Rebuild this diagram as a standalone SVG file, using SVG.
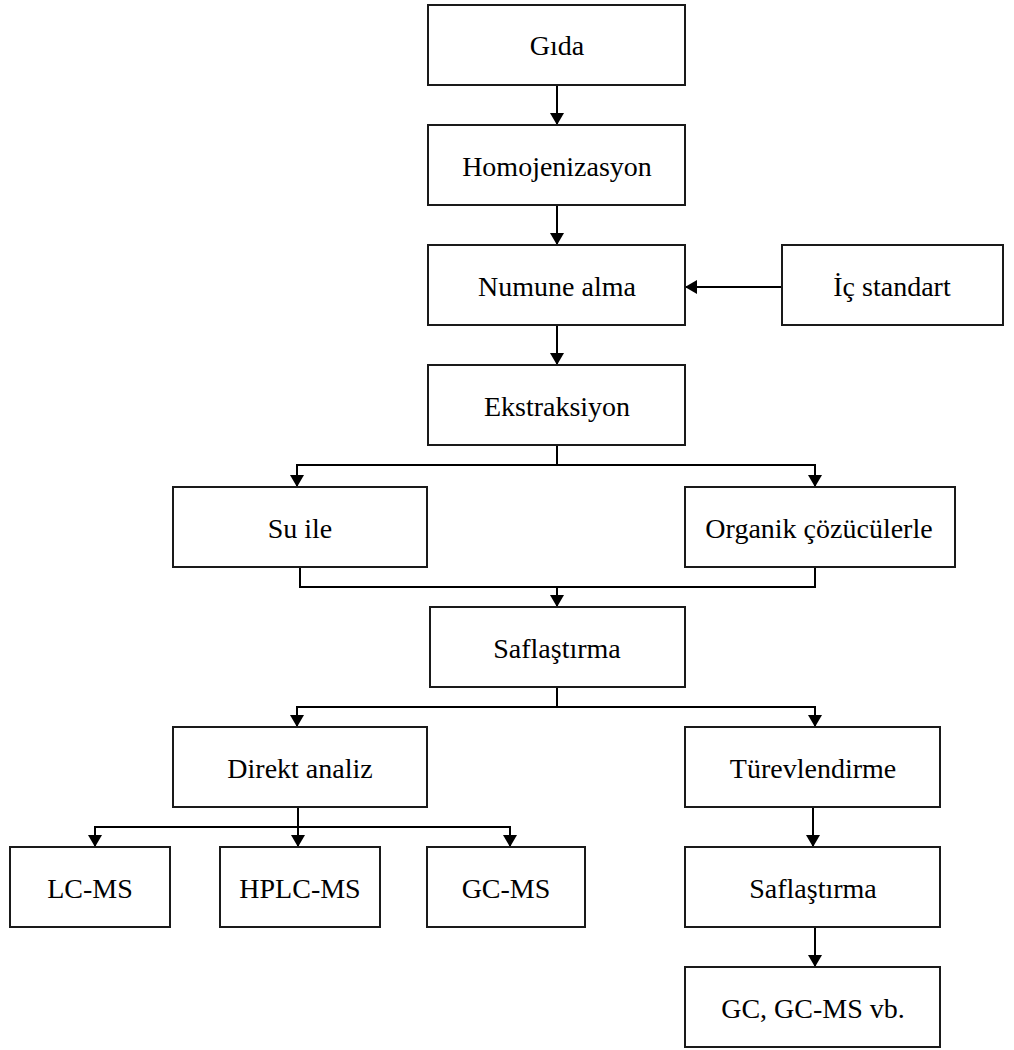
<svg xmlns="http://www.w3.org/2000/svg" width="1014" height="1050" viewBox="0 0 1014 1050">
<style>
.box{fill:#fff;stroke:#1a1a1a;stroke-width:2}
.lbl{font-family:"Liberation Serif","Times New Roman",Times,serif;font-size:28px;fill:#000;text-anchor:middle}
.ln{fill:none;stroke:#000;stroke-width:2}
</style>
<defs>
<marker id="ah" markerWidth="12" markerHeight="14" viewBox="0 0 12 14" refX="12" refY="7" orient="auto" markerUnits="userSpaceOnUse">
<path d="M0,0 L12,7 L0,14 Z" fill="#000"/>
</marker>
</defs>
<rect width="1014" height="1050" fill="#fff"/>
<g id="connectors">
<path class="ln" d="M557,85 V125" marker-end="url(#ah)"/>
<path class="ln" d="M557,205 V245" marker-end="url(#ah)"/>
<path class="ln" d="M782,287 H685" marker-end="url(#ah)"/>
<path class="ln" d="M557,325 V365" marker-end="url(#ah)"/>
<path class="ln" d="M557,445 V465 H297 V487" marker-end="url(#ah)"/>
<path class="ln" d="M557,465 H815 V487" marker-end="url(#ah)"/>
<path class="ln" d="M300,567 V587 H815 V567"/>
<path class="ln" d="M557,587 V607" marker-end="url(#ah)"/>
<path class="ln" d="M557,687 V707 H297 V727" marker-end="url(#ah)"/>
<path class="ln" d="M557,707 H815 V727" marker-end="url(#ah)"/>
<path class="ln" d="M298,807 V827 H95 V847" marker-end="url(#ah)"/>
<path class="ln" d="M298,827 V847" marker-end="url(#ah)"/>
<path class="ln" d="M298,827 H510 V847" marker-end="url(#ah)"/>
<path class="ln" d="M813,807 V847" marker-end="url(#ah)"/>
<path class="ln" d="M815,927 V967" marker-end="url(#ah)"/>
</g>
<g id="n-gida"><rect class="box" x="428" y="5" width="257" height="80"/><text class="lbl" x="557" y="55">Gıda</text></g>
<g id="n-homo"><rect class="box" x="428" y="125" width="257" height="80"/><text class="lbl" x="557" y="176">Homojenizasyon</text></g>
<g id="n-numune"><rect class="box" x="428" y="245" width="257" height="80"/><text class="lbl" x="557" y="296">Numune alma</text></g>
<g id="n-ic"><rect class="box" x="782" y="245" width="221" height="80"/><text class="lbl" x="892" y="296">İç standart</text></g>
<g id="n-ekstr"><rect class="box" x="428" y="365" width="257" height="80"/><text class="lbl" x="557" y="416">Ekstraksiyon</text></g>
<g id="n-su"><rect class="box" x="173" y="487" width="254" height="80"/><text class="lbl" x="300" y="538">Su ile</text></g>
<g id="n-organik"><rect class="box" x="685" y="487" width="270" height="80"/><text class="lbl" x="819" y="538">Organik çözücülerle</text></g>
<g id="n-safl1"><rect class="box" x="430" y="607" width="255" height="80"/><text class="lbl" x="557" y="658">Saflaştırma</text></g>
<g id="n-direkt"><rect class="box" x="173" y="727" width="254" height="80"/><text class="lbl" x="300" y="778">Direkt analiz</text></g>
<g id="n-turev"><rect class="box" x="685" y="727" width="255" height="80"/><text class="lbl" x="813" y="778">Türevlendirme</text></g>
<g id="n-lcms"><rect class="box" x="10" y="847" width="160" height="80"/><text class="lbl" x="90" y="898">LC-MS</text></g>
<g id="n-hplc"><rect class="box" x="220" y="847" width="160" height="80"/><text class="lbl" x="300" y="898">HPLC-MS</text></g>
<g id="n-gcms"><rect class="box" x="427" y="847" width="158" height="80"/><text class="lbl" x="506" y="898">GC-MS</text></g>
<g id="n-safl2"><rect class="box" x="685" y="847" width="255" height="80"/><text class="lbl" x="813" y="898">Saflaştırma</text></g>
<g id="n-gc"><rect class="box" x="685" y="967" width="255" height="80"/><text class="lbl" x="813" y="1018">GC, GC-MS vb.</text></g>
</svg>
